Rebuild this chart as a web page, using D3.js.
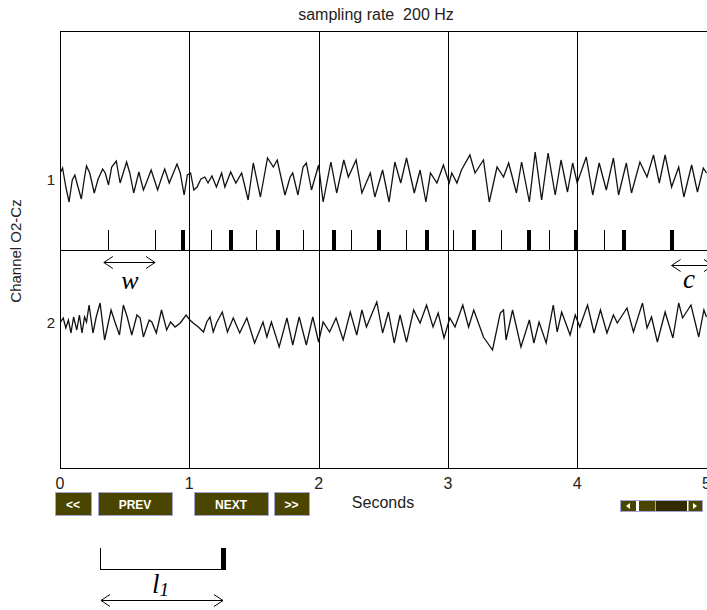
<!DOCTYPE html>
<html>
<head>
<meta charset="utf-8">
<script src="https://cdn.jsdelivr.net/npm/d3@7.9.0/dist/d3.min.js"></script>
<style>
  html, body { margin: 0; padding: 0; background: #fff; }
  svg { display: block; font-family: "Liberation Sans", Arial, sans-serif; }
</style>
</head>
<body>
<svg id="chart" width="707" height="610"></svg>
<script>
// sampling rate of the recording
const sampleRate = 200;
const xTicks = [0, 1, 2, 3, 4, 5];
const channelLabels = ['1', '2'];

// channel 1: sample index of each turning point and its amplitude (uV)
const ch1Idx = [1, 4, 9, 14, 19, 23, 27, 33, 38, 41, 46, 53, 59, 66, 70, 75, 80, 87, 93, 103,
  108, 114, 122, 129, 134, 141, 146, 151, 156, 162, 169, 181, 186, 192, 197, 202, 207, 212, 218, 224,
  229, 235, 242, 250, 255, 264, 272, 281, 291, 299, 310, 321, 330, 336, 348, 356, 360, 368, 376, 381,
  389, 400, 407, 419, 428, 439, 446, 458, 467, 480, 487, 499, 509, 518, 527, 536, 548, 557, 566, 573,
  583, 593, 602, 606, 614, 621, 634, 642, 655, 664, 676, 686, 694, 706, 714, 726, 735, 745, 755, 766,
  775, 785, 793, 800, 814, 824, 834, 845, 856, 864, 876, 884, 897, 908, 918, 927, 936, 946, 957, 965,
  977, 986, 995, 1000];
const ch1Uv = [8, 12, -7, -22, 0, 5, -5, -19, 3, 14, 7, -13, 1, 11, 7, -5, 13, 19, -3, 18,
  7, -13, 8, -10, -2, 10, 0, -10, 0, 11, -3, 16, 7, -15, 5, 7, -10, -7, 1, 3,
  -3, 4, -7, 7, -7, 8, -3, 7, -20, 17, -17, 22, 13, 20, -15, 3, 7, -15, 13, 17,
  -10, 15, -22, 18, -13, 20, 3, 20, -13, 7, -17, 10, -22, 18, -3, 22, -13, 10, -22, 7,
  -3, 15, -3, 7, -3, 10, 25, 7, 20, -22, 13, 3, 17, -13, 18, -22, 28, -20, 27, -15,
  20, -12, 17, -3, 23, -15, 17, -10, 22, -15, 17, -13, 18, 3, 25, -3, 25, -7, 13, -17,
  15, -12, 12, 7];

// channel 2
const ch2Idx = [1, 5, 9, 13, 17, 21, 26, 30, 34, 38, 41, 45, 51, 56, 62, 69, 79, 85, 92, 98,
  104, 111, 119, 124, 129, 138, 142, 149, 157, 165, 171, 178, 186, 195, 201, 206, 214, 222, 227, 232,
  237, 242, 251, 259, 268, 278, 289, 301, 314, 320, 327, 339, 351, 360, 370, 381, 391, 400, 407, 417,
  427, 438, 449, 459, 467, 474, 490, 499, 508, 517, 526, 536, 547, 557, 567, 577, 585, 594, 603, 611,
  623, 632, 640, 655, 669, 681, 686, 690, 700, 713, 726, 733, 741, 752, 763, 769, 776, 789, 797, 804,
  816, 826, 836, 846, 856, 862, 877, 887, 901, 908, 915, 924, 936, 948, 957, 963, 976, 988, 996, 1000];
const ch2Uv = [1, 5, -5, 3, -10, 6, -7, 8, -10, 6, 1, 18, -10, 6, 20, -17, 13, 1, -12, 18,
  6, -12, 8, 5, -14, 3, 1, -10, 13, -7, 1, -4, 0, 8, 3, 0, -4, -9, 1, 6,
  -9, 0, 11, -9, 5, -10, 5, -20, 1, -14, 1, -24, 5, -22, 6, -22, 6, -19, 1, -9,
  5, -17, 11, -12, 13, -4, 21, -10, 11, -20, 8, -19, 13, 0, 18, -4, 10, -15, 5, -4,
  18, -4, 13, -14, -27, 10, 13, -17, 13, -24, 3, -20, 1, -20, 18, -9, 11, -12, 8, -4,
  18, -10, 13, -10, 8, 0, 15, -9, 20, -5, 6, -19, 11, -15, 20, 5, 18, -14, 13, 6];

// detected events (seconds): candidate marks and confirmed marks
const thinMarks = [0.37, 0.735, 1.17, 1.515, 1.88, 2.25, 2.675, 3.04, 3.41, 3.78, 4.205];
const thickMarks = [0.95, 1.325, 1.685, 2.12, 2.465, 2.84, 3.2, 3.63, 3.99, 4.365, 4.73];

const buttons = [
  { label: '<<', x0: 55, x1: 91 },
  { label: 'PREV', x0: 98, x1: 172 },
  { label: 'NEXT', x0: 194, x1: 268 },
  { label: '>>', x0: 274, x1: 309 }
];

const svg = d3.select('#chart');

const plot = { left: 60, right: 706.5, top: 31, bottom: 468, mid: 250 };

const x = d3.scaleLinear().domain([0, 5]).range([plot.left, plot.right]);
const y1 = d3.scaleLinear().domain([-50, 50]).range([230, 130]);
const y2 = d3.scaleLinear().domain([-50, 50]).range([373, 273]);

svg.append('defs').append('clipPath').attr('id', 'clip')
  .append('rect')
  .attr('x', plot.left).attr('y', plot.top)
  .attr('width', 707 - plot.left).attr('height', plot.bottom - plot.top);

// title
svg.append('text')
  .attr('x', 376).attr('y', 20)
  .attr('text-anchor', 'middle')
  .attr('font-size', 16)
  .attr('fill', '#222')
  .style('white-space', 'pre')
  .text('sampling rate  200 Hz');

// frame + second gridlines
svg.append('g')
  .selectAll('line')
  .data(xTicks)
  .join('line')
  .attr('x1', (d) => Math.round(x(d)) + 0.5)
  .attr('x2', (d) => Math.round(x(d)) + 0.5)
  .attr('y1', plot.top)
  .attr('y2', plot.bottom)
  .attr('stroke', '#000');

[plot.top, plot.bottom, plot.mid].forEach((yy) => {
  svg.append('line')
    .attr('x1', plot.left).attr('x2', 707)
    .attr('y1', yy + 0.5).attr('y2', yy + 0.5)
    .attr('stroke', '#000');
});

// event marks on the divider
svg.append('g')
  .selectAll('line')
  .data(thinMarks)
  .join('line')
  .attr('x1', (d) => Math.round(x(d)) + 0.5)
  .attr('x2', (d) => Math.round(x(d)) + 0.5)
  .attr('y1', 230).attr('y2', plot.mid)
  .attr('stroke', '#000');

svg.append('g')
  .selectAll('rect')
  .data(thickMarks)
  .join('rect')
  .attr('x', (d) => Math.round(x(d)) - 2)
  .attr('y', 230)
  .attr('width', 4)
  .attr('height', 21)
  .attr('fill', '#000');

// traces
const traces = svg.append('g').attr('clip-path', 'url(#clip)');

function drawTrace(idx, uv, yScale) {
  const pts = idx.map((n, i) => [n / sampleRate, uv[i]]);
  const line = d3.line()
    .x((d) => x(d[0]))
    .y((d) => yScale(d[1]));
  traces.append('path')
    .datum(pts)
    .attr('d', line)
    .attr('fill', 'none')
    .attr('stroke', '#111')
    .attr('stroke-width', 1.3)
    .attr('stroke-linejoin', 'miter');
}
drawTrace(ch1Idx, ch1Uv, y1);
drawTrace(ch2Idx, ch2Uv, y2);

// channel labels
svg.append('g')
  .selectAll('text')
  .data(channelLabels)
  .join('text')
  .attr('x', 51)
  .attr('y', (d, i) => (i === 0 ? y1(0) : y2(0)) + 5)
  .attr('text-anchor', 'middle')
  .attr('font-size', 15)
  .attr('fill', '#222')
  .text((d) => d);

svg.append('text')
  .attr('transform', 'translate(21,251) rotate(-90)')
  .attr('text-anchor', 'middle')
  .attr('font-size', 15)
  .attr('fill', '#222')
  .text('Channel O2-Cz');

// x tick labels
svg.append('g')
  .selectAll('text')
  .data(xTicks)
  .join('text')
  .attr('x', (d) => x(d))
  .attr('y', 489)
  .attr('text-anchor', 'middle')
  .attr('font-size', 16)
  .attr('fill', '#222')
  .text((d) => d);

svg.append('text')
  .attr('x', 383).attr('y', 508)
  .attr('text-anchor', 'middle')
  .attr('font-size', 16)
  .attr('fill', '#222')
  .text('Seconds');

// navigation buttons
const btn = svg.append('g')
  .selectAll('g')
  .data(buttons)
  .join('g');

btn.append('rect')
  .attr('x', (d) => d.x0 + 0.5)
  .attr('y', 492.5)
  .attr('width', (d) => d.x1 - d.x0)
  .attr('height', 23)
  .attr('fill', '#4a4600')
  .attr('stroke', '#a7a3d0');

btn.append('text')
  .attr('x', (d) => (d.x0 + d.x1) / 2)
  .attr('y', 508.5)
  .attr('text-anchor', 'middle')
  .attr('font-size', 12)
  .attr('font-weight', 'bold')
  .attr('fill', '#fff')
  .text((d) => d.label);

// scrollbar
const sb = svg.append('g');
sb.append('rect').attr('x', 620.5).attr('y', 500.5).attr('width', 82).attr('height', 11)
  .attr('fill', '#4a4600').attr('stroke', '#a7a3d0');
sb.append('rect').attr('x', 636).attr('y', 501).attr('width', 3).attr('height', 10).attr('fill', '#fff');
sb.append('rect').attr('x', 655).attr('y', 501).attr('width', 1).attr('height', 10).attr('fill', '#a7a3d0');
sb.append('rect').attr('x', 656).attr('y', 501).attr('width', 31).attr('height', 10).attr('fill', '#302c00');
sb.append('rect').attr('x', 687).attr('y', 501).attr('width', 1.5).attr('height', 10).attr('fill', '#fff');
sb.append('path').attr('d', 'M626,506 L630,503 L630,509 Z').attr('fill', '#fff');
sb.append('path').attr('d', 'M697,506 L693,503 L693,509 Z').attr('fill', '#fff');

// annotations
function dblArrow(x0, x1, yy) {
  const g = svg.append('g').attr('fill', 'none').attr('stroke', '#000').attr('stroke-width', 1);
  g.append('line').attr('x1', x0).attr('x2', x1).attr('y1', yy).attr('y2', yy);
  g.append('path').attr('d', `M${x0 + 9},${yy - 6} L${x0},${yy} L${x0 + 9},${yy + 6}`);
  g.append('path').attr('d', `M${x1 - 9},${yy - 6} L${x1},${yy} L${x1 - 9},${yy + 6}`);
}

dblArrow(x(thinMarks[0]) - 4, x(thinMarks[1]), 262.5);
svg.append('text').attr('x', 130).attr('y', 289)
  .attr('text-anchor', 'middle')
  .attr('font-family', '"Liberation Serif", "Times New Roman", serif')
  .attr('font-style', 'italic').attr('font-size', 26)
  .text('w');

dblArrow(x(thickMarks[10]), 713, 265.5);
svg.append('text').attr('x', 689).attr('y', 288)
  .attr('text-anchor', 'middle')
  .attr('font-family', '"Liberation Serif", "Times New Roman", serif')
  .attr('font-style', 'italic').attr('font-size', 27)
  .text('c');

// inter-event length legend
svg.append('line').attr('x1', 100.5).attr('x2', 100.5).attr('y1', 548).attr('y2', 570).attr('stroke', '#000');
svg.append('line').attr('x1', 100).attr('x2', 222).attr('y1', 569.5).attr('y2', 569.5).attr('stroke', '#000');
svg.append('rect').attr('x', 221).attr('y', 548).attr('width', 5).attr('height', 22).attr('fill', '#000');
dblArrow(101, 223, 600.5);
const l1 = svg.append('text').attr('x', 152).attr('y', 593)
  .attr('font-family', '"Liberation Serif", "Times New Roman", serif')
  .attr('font-style', 'italic').attr('font-size', 27);
l1.append('tspan').text('l');
l1.append('tspan').attr('font-size', 19).attr('dy', 3).text('1');
</script>
</body>
</html>
